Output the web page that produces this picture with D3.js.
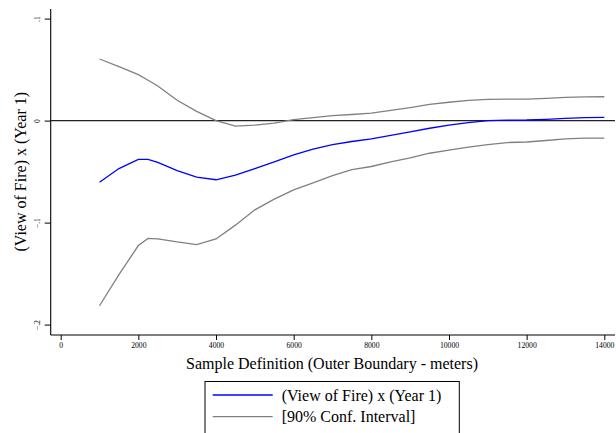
<!DOCTYPE html>
<html>
<head>
<meta charset="utf-8">
<script src="https://cdn.jsdelivr.net/npm/d3@7"></script>
<style>
    body { margin: 0; background: #fff; }
    svg text { font-family: "Liberation Serif", "DejaVu Serif", "Times New Roman", Times, serif; }
</style>
</head>
<body>
<svg id="chart" width="616" height="433"></svg>
<script>
(function() {
"use strict";

// sample definition (outer boundary, meters)
var distances = [1000, 1500, 2000, 2250, 2500, 3000, 3500, 4000, 4500, 5000, 5500, 6000, 6500, 7000,
                 7500, 8000, 8500, 9000, 9500, 10000, 10500, 11000, 11500, 12000, 12500, 13000, 13500, 14000];

// (View of Fire) x (Year 1) coefficient
var coef = [-0.0605, -0.047, -0.038, -0.038, -0.041, -0.049, -0.0555, -0.058, -0.0535, -0.047, -0.0405, -0.0335, -0.028, -0.0235,
            -0.0205, -0.018, -0.0145, -0.011, -0.0075, -0.0045, -0.002, 0.0, 0.0005, 0.0006, 0.0012, 0.0022, 0.003, 0.0032];

// 90% confidence interval bounds
var ciUpper = [0.0604, 0.053, 0.045, 0.0395, 0.034, 0.020, 0.009, 0.0, -0.0055, -0.0045, -0.0025, 0.001, 0.003, 0.0048,
               0.006, 0.0073, 0.010, 0.0128, 0.016, 0.018, 0.0198, 0.0209, 0.021, 0.021, 0.0218, 0.0228, 0.0233, 0.0234];
var ciLower = [-0.1815, -0.151, -0.1225, -0.1155, -0.116, -0.119, -0.1215, -0.116, -0.1025, -0.0875, -0.077, -0.068, -0.061, -0.054,
               -0.048, -0.045, -0.0405, -0.0365, -0.032, -0.029, -0.026, -0.0235, -0.0215, -0.021, -0.0195, -0.018, -0.0172, -0.0171];

var xTicks = [0, 2000, 4000, 6000, 8000, 10000, 12000, 14000];
var yTicks = [0.1, 0, -0.1, -0.2];

var legendLabels = ["(View of Fire) x (Year 1)", "[90% Conf. Interval]"];
var legendColors = ["#0000ff", "#808080"];

var svg = d3.select("#chart");

var x = d3.scaleLinear().domain([0, 14000]).range([60.7, 604.3]);
var y = d3.scaleLinear().domain([-0.2, 0.1]).range([324.6, 18.6]);

var yFormat = function(d) {
    if (d === 0) { return "0"; }
    return d3.format(".1f")(d).replace("0.", ".");
};

// axes
var xAxis = svg.append("g")
    .attr("transform", "translate(0,335)")
    .call(d3.axisBottom(x).tickValues(xTicks).tickSize(5).tickFormat(d3.format("d")));
xAxis.attr("font-family", null);
xAxis.select(".domain").remove();
xAxis.selectAll(".tick line").attr("stroke", "#000");
xAxis.selectAll(".tick text")
    .attr("y", 10)
    .attr("dy", "0.35em")
    .attr("font-size", 7.7)
    .attr("fill", "#000");

var yAxis = svg.append("g")
    .attr("transform", "translate(50.7,0)")
    .call(d3.axisLeft(y).tickValues(yTicks).tickSize(6).tickFormat(yFormat));
yAxis.attr("font-family", null);
yAxis.select(".domain").remove();
yAxis.selectAll(".tick line").attr("stroke", "#000");
yAxis.selectAll(".tick text")
    .attr("x", null)
    .attr("dy", null)
    .attr("text-anchor", "middle")
    .attr("transform", "translate(-11,0) rotate(-90)")
    .attr("font-size", 7.7)
    .attr("fill", "#000");

svg.append("line")
    .attr("x1", 50.7).attr("x2", 50.7)
    .attr("y1", 9).attr("y2", 335)
    .attr("stroke", "#000").attr("stroke-width", 1.1);
svg.append("line")
    .attr("x1", 50.7).attr("x2", 615)
    .attr("y1", 335).attr("y2", 335)
    .attr("stroke", "#000").attr("stroke-width", 1.1);

// zero reference line
svg.append("line")
    .attr("x1", 50.7).attr("x2", 615)
    .attr("y1", y(0)).attr("y2", y(0))
    .attr("stroke", "#222").attr("stroke-width", 1.4);

// axis titles
svg.append("text")
    .attr("transform", "translate(20,171.7) rotate(-90)")
    .attr("text-anchor", "middle")
    .attr("dy", "0.35em")
    .attr("font-size", 16)
    .text("(View of Fire) x (Year 1)");

svg.append("text")
    .attr("x", 332)
    .attr("y", 363)
    .attr("text-anchor", "middle")
    .attr("dy", "0.35em")
    .attr("font-size", 16)
    .text("Sample Definition (Outer Boundary - meters)");

// series
var line = function(values) {
    return d3.line()
        .x(function(d, i) { return x(distances[i]); })
        .y(function(d) { return y(d); })(values);
};

svg.append("path")
    .attr("d", line(ciUpper))
    .attr("fill", "none")
    .attr("stroke", "#808080")
    .attr("stroke-width", 1.3);
svg.append("path")
    .attr("d", line(ciLower))
    .attr("fill", "none")
    .attr("stroke", "#808080")
    .attr("stroke-width", 1.3);
svg.append("path")
    .attr("d", line(coef))
    .attr("fill", "none")
    .attr("stroke", "#0000ff")
    .attr("stroke-width", 1.3);

// legend
var legend = svg.append("g").attr("class", "legend");
legend.append("rect")
    .attr("x", 205).attr("y", 381.5)
    .attr("width", 254.3).attr("height", 70)
    .attr("fill", "#fff")
    .attr("stroke", "#000")
    .attr("stroke-width", 1);

var items = legend.selectAll(".legend-item")
    .data(legendLabels)
    .enter()
    .append("g")
        .attr("class", "legend-item")
        .attr("transform", function(d, i) { return "translate(0," + (395 + i * 21.7) + ")"; });

items.append("line")
    .attr("x1", 212.7).attr("x2", 272.7)
    .attr("stroke", function(d, i) { return legendColors[i]; })
    .attr("stroke-width", 1.3);

items.append("text")
    .attr("x", 281.7)
    .attr("dy", "0.35em")
    .attr("font-size", 16)
    .text(function(d) { return d; });
}());
</script>
</body>
</html>
